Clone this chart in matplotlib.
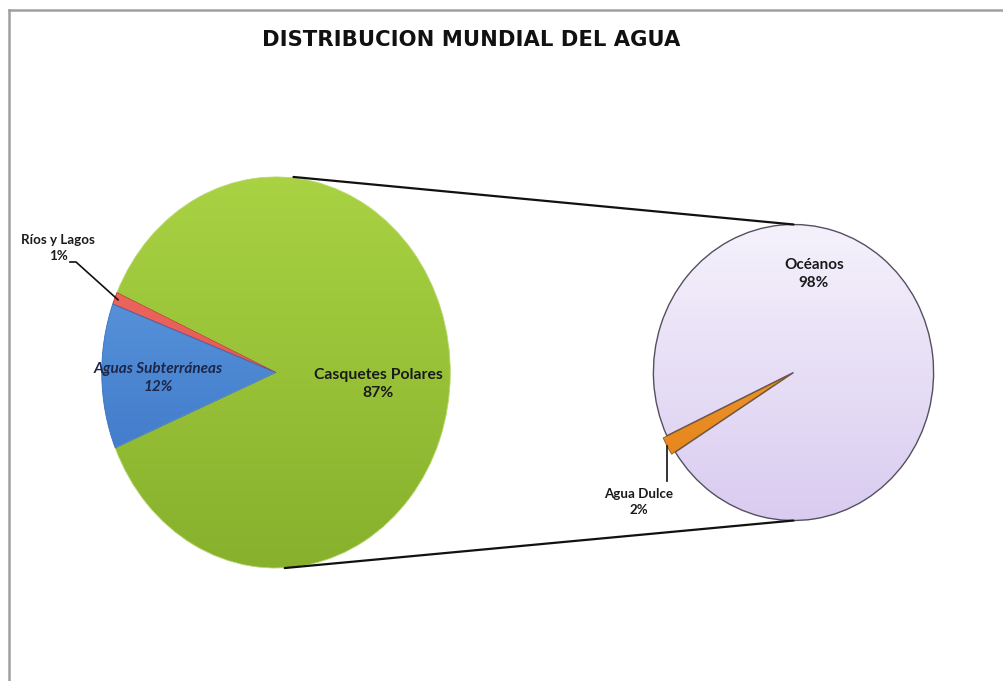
import numpy as np
import matplotlib.pyplot as plt
from matplotlib.colors import LinearSegmentedColormap
from matplotlib.patches import ConnectionPatch
from matplotlib.lines import Line2D

# agua dulce desglosada (pastel grande) y agua total (pastel pequeño)
dulce_labels = ['Casquetes Polares', 'Ríos y Lagos', 'Aguas Subterráneas']
dulce_values = [87, 1, 12]
total_labels = ['Océanos', 'Agua Dulce']
total_values = [98, 2]

W, H = 1004, 681
fig = plt.figure(figsize=(W / 100, H / 100), dpi=100)
fig.patch.set_facecolor('white')


def box(x0, y0, x1, y1):
    # caja en pixeles (origen arriba a la izquierda) -> fraccion de figura
    return [x0 / W, 1 - y1 / H, (x1 - x0) / W, (y1 - y0) / H]


def shade(ax, wedge, top, bottom):
    cmap = LinearSegmentedColormap.from_list('g', [bottom, top])
    grad = np.linspace(0, 1, 256).reshape(-1, 1)
    im = ax.imshow(grad, extent=(-1.2, 1.2, -1.2, 1.2), origin='lower',
                   cmap=cmap, aspect='auto', zorder=1, interpolation='bilinear')
    im.set_clip_path(wedge)
    wedge.set_facecolor('none')
    wedge.set_zorder(2)


# --- pastel izquierdo ---
ax1 = fig.add_axes(box(100, 175, 452, 570))
w1, _ = ax1.pie(dulce_values, startangle=202.7, counterclock=True, radius=1,
                wedgeprops=dict(linewidth=0.6, edgecolor='#b8d870'))
ax1.set_aspect('auto')
shade(ax1, w1[0], '#acd645', '#84ad2a')
shade(ax1, w1[1], '#f57a72', '#d83a34')
shade(ax1, w1[2], '#6aa6e8', '#2f68bd')
w1[1].set_edgecolor('#c03030')
w1[2].set_edgecolor('#3a70c0')
ax1.set_xlim(-1.01, 1.01)
ax1.set_ylim(-1.01, 1.01)
ax1.axis('off')

# --- pastel derecho ---
ax2 = fig.add_axes(box(652, 223, 935, 522))
w2, _ = ax2.pie(total_values, startangle=212.5, counterclock=True, radius=1,
                explode=[0, 0.03],
                wedgeprops=dict(linewidth=1.0, edgecolor='#555060'))
ax2.set_aspect('auto')
shade(ax2, w2[0], '#f8f5fd', '#d6c8ef')
shade(ax2, w2[1], '#f7a640', '#e07c12')
w2[1].set_edgecolor('#8a5a20')
w2[1].set_linewidth(0.6)
ax2.set_xlim(-1.01, 1.01)
ax2.set_ylim(-1.01, 1.01)
ax2.axis('off')

# lineas que unen los dos pasteles
for yy in (1, -1):
    con = ConnectionPatch(xyA=(0.1 if yy > 0 else 0.05, yy), coordsA=ax1.transData,
                          xyB=(0, yy), coordsB=ax2.transData,
                          color='#111111', linewidth=1.6)
    fig.add_artist(con)

# capa superior en pixeles para textos
ov = fig.add_axes([0, 0, 1, 1], facecolor='none')
ov.set_xlim(0, W)
ov.set_ylim(H, 0)
ov.axis('off')

# borde del grafico (solo arriba e izquierda)
for xs, ys in (([9, W], [10, 10]), ([9, 9], [10, H])):
    ov.add_line(Line2D(xs, ys, color='#a0a0a0', linewidth=1.8, clip_on=False))

ov.text(471, 40, 'DISTRIBUCION MUNDIAL DEL AGUA', ha='center', va='center',
        fontsize=15.2, fontweight='bold', family='DejaVu Sans', color='#111111')

lab = dict(ha='center', va='center', fontsize=11.3, fontweight='bold',
           family='Lato', color='#1a1a1a', linespacing=1.3)

ov.text(378, 384, f'{dulce_labels[0]}\n{dulce_values[0]}%', **lab)
ov.text(158, 378, f'{dulce_labels[2]}\n{dulce_values[2]}%',
        **{**lab, 'fontsize': 11, 'style': 'italic', 'color': '#1c2648'})
ov.text(58, 248, f'{dulce_labels[1]}\n{dulce_values[1]}%', **{**lab, 'fontsize': 9.6})
ov.text(814, 274, f'{total_labels[0]}\n{total_values[0]}%', **{**lab, 'fontsize': 11})
ov.text(639, 502, f'{total_labels[1]}\n{total_values[1]}%', **{**lab, 'fontsize': 9.6})


def edge_point(ax, wedge, r=1.0):
    t = np.deg2rad((wedge.theta1 + wedge.theta2) / 2)
    cx, cy = wedge.center
    disp = ax.transData.transform((cx + r * np.cos(t), cy + r * np.sin(t)))
    return ov.transData.inverted().transform(disp)


# lineas guia
px, py = edge_point(ax1, w1[1], 0.98)
ov.plot([70, 76, px], [262, 262, py], color='#111111', lw=1.2)
px, py = edge_point(ax2, w2[1], 1.0)
ov.plot([px, px], [py, 481], color='#111111', lw=1.2)

fig.savefig('out.png', dpi=100, facecolor='white')
